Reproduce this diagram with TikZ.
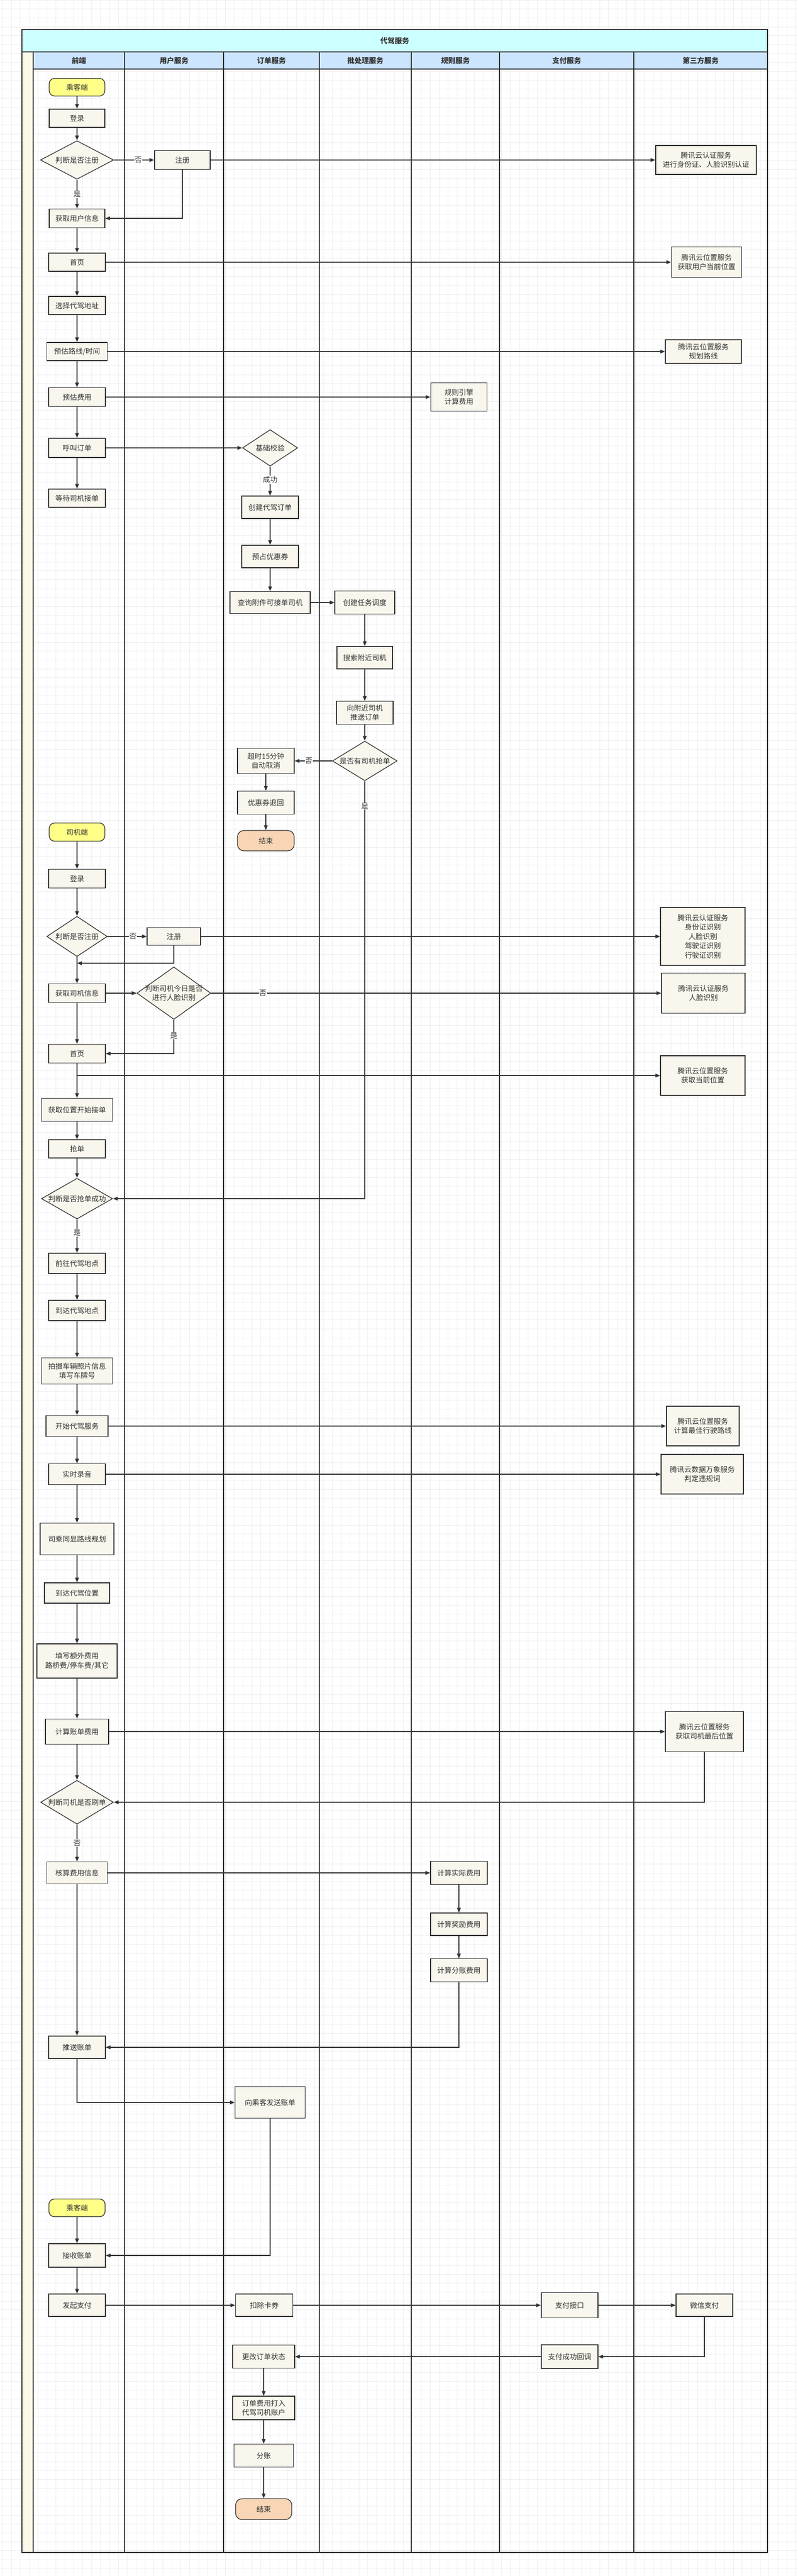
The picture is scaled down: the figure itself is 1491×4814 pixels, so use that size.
\documentclass[tikz,border=0pt]{standalone}
\usepackage{fontspec}
\setmainfont{Noto Sans CJK SC}
\usetikzlibrary{arrows.meta,shapes.geometric,calc}
\definecolor{ink}{HTML}{333333}
\definecolor{boxfill}{HTML}{F9F7ED}
\definecolor{termfill}{HTML}{FFFF88}
\definecolor{endfill}{HTML}{F8D5B5}
\definecolor{titlefill}{HTML}{CCFFFF}
\definecolor{headfill}{HTML}{CCE5FF}
\definecolor{stripfill}{HTML}{FBF8E8}
\definecolor{gridc}{HTML}{EFEFEF}
\tikzset{
  every node/.style={text=ink, font=\fontsize{13.5}{17.5}\selectfont},
  hdr/.style={font=\bfseries\fontsize{13.5}{16}\selectfont},
  box/.style={draw=ink, line width=1.3pt, fill=boxfill, align=center, inner sep=0pt},
  sz/.style 2 args={minimum width=#1pt, minimum height=#2pt},
  term/.style={box, fill=termfill, rounded corners=10pt},
  endt/.style={box, fill=endfill, rounded corners=12pt},
  dia/.style={draw=ink, line width=1.3pt, fill=boxfill, diamond, inner sep=0pt},
  flow/.style={draw=ink, line width=1.3pt, -{Triangle[length=9pt,width=7pt]}},
  lbl/.style={fill=white, inner sep=1pt},
}
\begin{document}
\begin{tikzpicture}[x=1pt,y=-1pt]
\useasboundingbox (0,0) rectangle (1491,4814);
\fill[white] (0,0) rectangle (1491,4814);
% background grid
\foreach \i in {0,...,89} {\draw[gridc, line width=0.9pt] ({4.3+16.667*\i},0) -- ({4.3+16.667*\i},4814);}
\foreach \j in {0,...,288} {\draw[gridc, line width=0.9pt] (0,{16.667*\j}) -- (1491,{16.667*\j});}

% pool
\fill[stripfill] (41,97) rectangle (62,4770);
\fill[titlefill] (41,55) rectangle (1435,97);
\fill[headfill] (62,97) rectangle (1435,129);
\foreach \x in {62,233,418,597,769,934,1185} {\draw[ink, line width=1.2pt] (\x,97) -- (\x,4770);}
\draw[ink, line width=2pt] (41,97) -- (1435,97);
\draw[ink, line width=2pt] (62,129) -- (1435,129);
\draw[ink, line width=2.2pt] (41,55) rectangle (1435,4770);
\node[hdr] (title) at (738,76) {代驾服务};
\node[hdr] (h1) at (147.5,113) {前端};
\node[hdr] (h2) at (325.5,113) {用户服务};
\node[hdr] (h3) at (507.5,113) {订单服务};
\node[hdr] (h4) at (683,113) {批处理服务};
\node[hdr] (h5) at (851.5,113) {规则服务};
\node[hdr] (h6) at (1059.5,113) {支付服务};
\node[hdr] (h7) at (1310,113) {第三方服务};

% ---------- passenger ----------
\node[term, sz={104}{33}] (pstart) at (144,163) {乘客端};
\node[box, sz={104}{34}] (plogin) at (144,221) {登录};
\node[dia, sz={137}{72}, label={[align=center]center:判断是否注册}] (pdia) at (144,299) {};
\node[box, sz={104}{35}] (preg) at (341,299) {注册};
\node[box, sz={188}{54}] (tauth1) at (1320,299) {腾讯云认证服务\\进行身份证、人脸识别认证};
\node[box, sz={104}{35}] (pinfo) at (144,408) {获取用户信息};
\node[box, sz={106}{34}] (phome) at (144,490) {首页};
\node[box, sz={131}{57}] (tloc1) at (1321,490) {腾讯云位置服务\\获取用户当前位置};
\node[box, sz={106}{34}] (paddr) at (144,571) {选择代驾地址};
\node[box, sz={113}{34}] (proute) at (144,657) {预估路线/时间};
\node[box, sz={142}{44}] (troute) at (1315,657) {腾讯云位置服务\\规划路线};
\node[box, sz={106}{35}] (pfee) at (144,742) {预估费用};
\node[box, sz={105}{53}] (rfee) at (858,742) {规则引擎\\计算费用};
\node[box, sz={106}{36}] (pcall) at (144,837) {呼叫订单};
\node[dia, sz={103}{68}, label={center:基础校验}] (ocheck) at (505,837) {};
\node[box, sz={106}{34}] (pwait) at (144,931) {等待司机接单};
\node[box, sz={106}{42}] (ocreate) at (505,948) {创建代驾订单};
\node[box, sz={106}{42}] (ocoupon) at (505,1040) {预占优惠券};
\node[box, sz={150}{41}] (oquery) at (505,1126) {查询附件可接单司机};
\node[box, sz={112}{43}] (btask) at (682,1126) {创建任务调度};
\node[box, sz={104}{42}] (bsearch) at (682,1229) {搜索附近司机};
\node[box, sz={106}{43}] (bpush) at (682,1332) {向附近司机\\推送订单};
\node[dia, sz={121}{74}, label={center:是否有司机抢单}] (bgrab) at (682,1422) {};
\node[box, sz={106}{47}] (otimeout) at (497,1422) {超时15分钟\\自动取消};
\node[box, sz={106}{43}] (orefund) at (497,1500) {优惠券退回};
\node[endt, sz={106}{38}] (oend) at (497,1571) {结束};

\draw[flow] (pstart) -- (plogin);
\draw[flow] (plogin) -- (pdia);
\draw[flow] (pdia) -- node[lbl, pos=0.6] {否} (preg);
\draw[flow] (preg) -- (tauth1);
\draw[flow] (pdia) -- node[lbl] {是} (pinfo);
\draw[flow] (preg.south) |- (pinfo.east);
\draw[flow] (pinfo) -- (phome);
\draw[flow] (phome) -- (tloc1);
\draw[flow] (phome) -- (paddr);
\draw[flow] (paddr) -- (proute);
\draw[flow] (proute) -- (troute);
\draw[flow] (proute) -- (pfee);
\draw[flow] (pfee) -- (rfee);
\draw[flow] (pfee) -- (pcall);
\draw[flow] (pcall) -- (ocheck);
\draw[flow] (pcall) -- (pwait);
\draw[flow] (ocheck) -- node[lbl, pos=0.45] {成功} (ocreate);
\draw[flow] (ocreate) -- (ocoupon);
\draw[flow] (ocoupon) -- (oquery);
\draw[flow] (oquery) -- (btask);
\draw[flow] (btask) -- (bsearch);
\draw[flow] (bsearch) -- (bpush);
\draw[flow] (bpush) -- (bgrab);
\draw[flow] (bgrab) -- node[lbl, pos=0.62] {否} (otimeout);
\draw[flow] (otimeout) -- (orefund);
\draw[flow] (orefund) -- (oend);

% ---------- driver ----------
\node[term, sz={104}{34}] (dstart) at (144,1555) {司机端};
\node[box, sz={106}{35}] (dlogin) at (144,1642) {登录};
\node[dia, sz={113}{75}, label={center:判断是否注册}] (ddia) at (144,1750) {};
\node[box, sz={100}{33}] (dreg) at (325,1750) {注册};
\node[box, sz={158}{108}] (tauth2) at (1314,1750) {腾讯云认证服务\\身份证识别\\人脸识别\\驾驶证识别\\行驶证识别};
\coordinate (djoin) at (144,1800);
\node[box, sz={106}{35}] (dinfo) at (144,1856) {获取司机信息};
\node[dia, sz={138}{98}, label={[align=center]center:判断司机今日是否\\进行人脸识别}] (dface) at (325,1856) {};
\node[box, sz={156}{75}] (tface) at (1315,1856) {腾讯云认证服务\\人脸识别};
\node[box, sz={106}{35}] (dhome) at (144,1969) {首页};
\node[box, sz={158}{74}] (tloc2) at (1314,2010) {腾讯云位置服务\\获取当前位置};
\node[box, sz={133}{43}] (dloc) at (144,2074) {获取位置开始接单};
\node[box, sz={106}{34}] (dgrab) at (144,2147) {抢单};
\node[dia, sz={133}{76}, label={center:判断是否抢单成功}] (dsucc) at (144,2240) {};
\node[box, sz={106}{38}] (dgo) at (144,2361) {前往代驾地点};
\node[box, sz={106}{38}] (darrive) at (144,2449) {到达代驾地点};
\node[box, sz={133}{49}] (dphoto) at (144,2562) {拍摄车辆照片信息\\填写车牌号};
\node[box, sz={116}{39}] (dsvc) at (144,2665) {开始代驾服务};
\node[box, sz={136}{74}] (tbest) at (1314,2665) {腾讯云位置服务\\计算最佳行驶路线};
\node[box, sz={106}{39}] (drec) at (144,2755) {实时录音};
\node[box, sz={154}{74}] (tci) at (1313,2755) {腾讯云数据万象服务\\判定违规词};
\node[box, sz={138}{59}] (dshare) at (144,2876) {司乘同显路线规划};
\node[box, sz={122}{38}] (darrive2) at (144,2977) {到达代驾位置};
\node[box, sz={150}{64}] (dextra) at (144,3104) {填写额外费用\\路桥费/停车费/其它};
\node[box, sz={118}{47}] (dbill) at (144,3236) {计算账单费用};
\node[box, sz={146}{75}] (tlast) at (1317,3236) {腾讯云位置服务\\获取司机最后位置};
\node[dia, sz={136}{82}, label={center:判断司机是否刷单}] (dfraud) at (144,3368) {};
\node[box, sz={113}{41}] (dcheck) at (144,3500) {核算费用信息};
\node[box, sz={106}{43}] (ractual) at (858,3500) {计算实际费用};
\node[box, sz={106}{42}] (rbonus) at (858,3596) {计算奖励费用};
\node[box, sz={106}{43}] (rsplit) at (858,3682) {计算分账费用};
\node[box, sz={106}{42}] (dpush) at (144,3826) {推送账单};
\node[box, sz={131}{59}] (osend) at (505,3929) {向乘客发送账单};

\draw[flow] (dstart) -- (dlogin);
\draw[flow] (dlogin) -- (ddia);
\draw[flow] (ddia) -- node[lbl, pos=0.65] {否} (dreg);
\draw[flow] (dreg) -- (tauth2);
\draw[flow] (dreg.south) |- (djoin);
\draw[flow] (ddia) -- (dinfo);
\draw[flow] (dinfo) -- (dface);
\draw[flow] (dface) -- node[lbl, pos=0.115] {否} (tface);
\draw[flow] (dface.south) |- node[lbl, pos=0.235] {是} (dhome.east);
\draw[flow] (dinfo) -- (dhome);
\draw[flow] (dhome) -- (dloc);
\draw[flow] (dhome.south) |- (tloc2.west);
\draw[flow] (dloc) -- (dgrab);
\draw[flow] (dgrab) -- (dsucc);
\draw[flow] (bgrab.south) |- node[lbl, pos=0.03] {是} (dsucc.east);
\draw[flow] (dsucc) -- node[lbl, pos=0.4] {是} (dgo);
\draw[flow] (dgo) -- (darrive);
\draw[flow] (darrive) -- (dphoto);
\draw[flow] (dphoto) -- (dsvc);
\draw[flow] (dsvc) -- (tbest);
\draw[flow] (dsvc) -- (drec);
\draw[flow] (drec) -- (tci);
\draw[flow] (drec) -- (dshare);
\draw[flow] (dshare) -- (darrive2);
\draw[flow] (darrive2) -- (dextra);
\draw[flow] (dextra) -- (dbill);
\draw[flow] (dbill) -- (tlast);
\draw[flow] (dbill) -- (dfraud);
\draw[flow] (tlast.south) |- (dfraud.east);
\draw[flow] (dfraud) -- node[lbl] {否} (dcheck);
\draw[flow] (dcheck) -- (ractual);
\draw[flow] (ractual) -- (rbonus);
\draw[flow] (rbonus) -- (rsplit);
\draw[flow] (rsplit.south) |- (dpush.east);
\draw[flow] (dcheck) -- (dpush);
\draw[flow] (dpush.south) |- (osend.west);

% ---------- payment ----------
\node[term, sz={105}{33}] (p2start) at (144,4126) {乘客端};
\node[box, sz={106}{44}] (p2recv) at (144,4215) {接收账单};
\node[box, sz={106}{42}] (p2pay) at (144,4308) {发起支付};
\node[box, sz={107}{42}] (odeduct) at (494,4308) {扣除卡券};
\node[box, sz={106}{47}] (payapi) at (1065,4308) {支付接口};
\node[box, sz={106}{42}] (twx) at (1317,4308) {微信支付};
\node[box, sz={106}{44}] (paycb) at (1065,4404) {支付成功回调};
\node[box, sz={116}{43}] (ostatus) at (493,4404) {更改订单状态};
\node[box, sz={116}{44}] (ocredit) at (493,4500) {订单费用打入\\代驾司机账户};
\node[box, sz={111}{43}] (osplit) at (493,4589) {分账};
\node[endt, sz={105}{39}] (oend2) at (493,4689) {结束};

\draw[flow] (osend.south) |- (p2recv.east);
\draw[flow] (p2start) -- (p2recv);
\draw[flow] (p2recv) -- (p2pay);
\draw[flow] (p2pay) -- (odeduct);
\draw[flow] (odeduct) -- (payapi);
\draw[flow] (payapi) -- (twx);
\draw[flow] (twx.south) |- (paycb.east);
\draw[flow] (paycb) -- (ostatus);
\draw[flow] (ostatus) -- (ocredit);
\draw[flow] (ocredit) -- (osplit);
\draw[flow] (osplit) -- (oend2);
\end{tikzpicture}
\end{document}
